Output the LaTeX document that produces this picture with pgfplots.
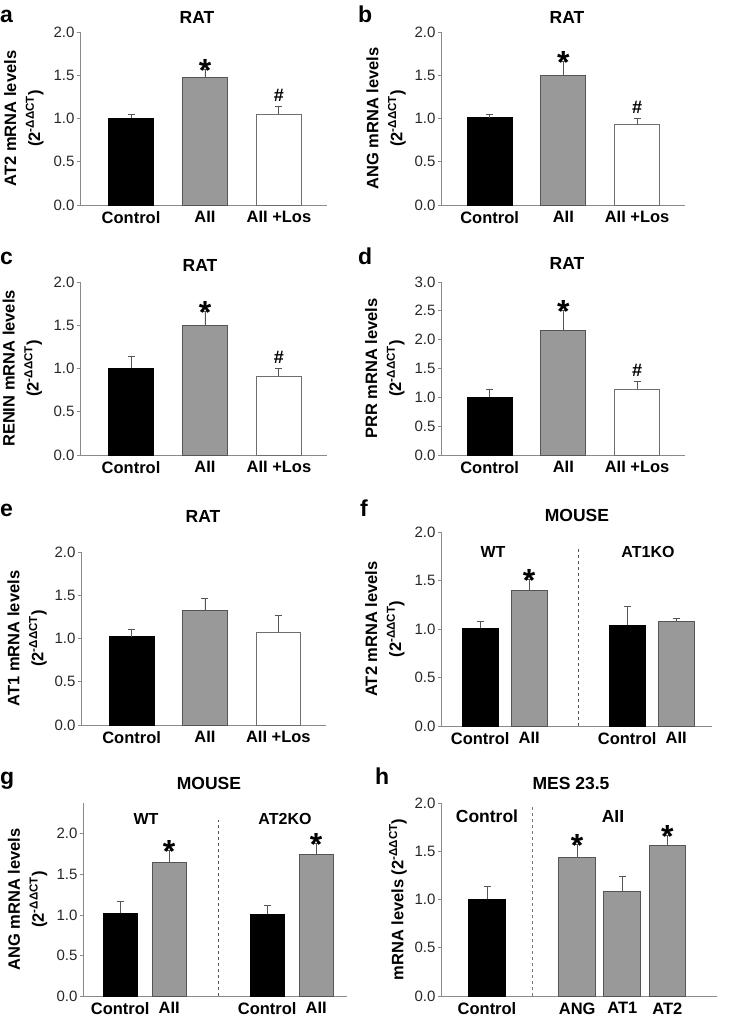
\documentclass[border=0pt]{standalone}
\usepackage{pgfplots}
\pgfplotsset{compat=1.18}
\usepackage{fontspec}
\setmainfont{Liberation Sans}
\definecolor{barg}{HTML}{999999}
\definecolor{edge}{HTML}{555555}
\definecolor{axg}{HTML}{8A8A8A}
\pgfplotsset{
  panel/.style={
    scale only axis, anchor=south west, clip=false,
    axis x line=bottom, axis y line=left,
    axis line style={axg, line width=0.9pt, -},
    ymin=0,
    /pgf/number format/assume math mode=true,
    yticklabel style={/pgf/number format/fixed, /pgf/number format/fixed zerofill,
      /pgf/number format/precision=1, font=\fontsize{15}{15}\selectfont, color=black!85, xshift=1pt},
    xticklabel style={font=\bfseries\fontsize{16.5}{18}\selectfont},
    xtick style={draw=none},
    ytick style={axg, line width=0.8pt},
    tick align=outside, major tick length=3pt,
    ylabel style={anchor=center, align=center, font=\bfseries\fontsize{16.5}{24}\selectfont},
  },
  blk/.style={ybar, bar shift=0pt, fill=black, draw=black, line width=0.8pt},
  gry/.style={ybar, bar shift=0pt, fill=barg, draw=edge, line width=0.8pt},
  wht/.style={ybar, bar shift=0pt, fill=white, draw=edge!85, line width=0.8pt},
  err/.style={error bars/.cd, y dir=plus, y explicit,
    error bar style={color=edge, line width=0.9pt},
    error mark options={rotate=90, mark size=3.5pt, line width=0.9pt, color=edge}},
}
\tikzset{
  ast/.style={font=\bfseries\fontsize{32}{32}\selectfont, anchor=base, yshift=-12pt, inner sep=0pt},
  hsh/.style={font=\bfseries\fontsize{18}{18}\selectfont, anchor=base, yshift=5pt, inner sep=0pt},
  plab/.style={font=\bfseries\fontsize{23}{23}\selectfont, anchor=base west, inner sep=0pt},
  ttl/.style={font=\bfseries\fontsize{17.5}{17.5}\selectfont, anchor=base, inner sep=0pt},
  grp/.style={font=\bfseries\fontsize{16}{16}\selectfont, anchor=base, inner sep=0pt},
}
\newcommand{\ddct}{(2\textsuperscript{-ΔΔCT})}
\begin{document}
\begin{tikzpicture}[x=1pt,y=1pt]
\useasboundingbox (0,0) rectangle (740,1017);
% ---------- a ----------
\node[plab] at (0,994) {a};
\node[ttl] at (197,993) {RAT};
\begin{axis}[panel, at={(80pt,812pt)}, width=247pt, height=173pt,
  xmin=-0.69, xmax=2.65, ymax=2, ytick={0,0.5,...,2}, bar width=0.61,
  xtick={0,1,2}, xticklabels={Control,AII,AII +Los},
  ylabel={AT2 mRNA levels\\\ddct}, ylabel style={at={(axis description cs:-0.227,0.5)}}]
\addplot[blk, err] coordinates {(0,1.00) +- (0,0.045)};
\addplot[gry, err] coordinates {(1,1.47) +- (0,0.10)};
\addplot[wht, err] coordinates {(2,1.05) +- (0,0.085)};
\node[ast] at (axis cs:1,1.57) {*};
\node[hsh] at (axis cs:2,1.135) {\#};
\end{axis}
% ---------- b ----------
\node[plab] at (358,994) {b};
\node[ttl] at (567,993) {RAT};
\begin{axis}[panel, at={(441pt,812pt)}, width=244pt, height=173pt,
  xmin=-0.66, xmax=2.65, ymax=2, ytick={0,0.5,...,2}, bar width=0.61,
  xtick={0,1,2}, xticklabels={Control,AII,AII +Los},
  ylabel={ANG mRNA levels\\\ddct}, ylabel style={at={(axis description cs:-0.225,0.5)}}]
\addplot[blk, err] coordinates {(0,1.01) +- (0,0.035)};
\addplot[gry, err] coordinates {(1,1.50) +- (0,0.16)};
\addplot[wht, err] coordinates {(2,0.93) +- (0,0.07)};
\node[ast] at (axis cs:1,1.66) {*};
\node[hsh] at (axis cs:2,1.00) {\#};
\end{axis}
% ---------- c ----------
\node[plab] at (0,752) {c};
\node[ttl] at (200,745) {RAT};
\begin{axis}[panel, at={(80pt,562pt)}, width=247pt, height=173pt,
  xmin=-0.69, xmax=2.65, ymax=2, ytick={0,0.5,...,2}, bar width=0.61,
  xtick={0,1,2}, xticklabels={Control,AII,AII +Los},
  ylabel={RENIN mRNA levels\\\ddct}, ylabel style={at={(axis description cs:-0.233,0.5)}}]
\addplot[blk, err] coordinates {(0,1.00) +- (0,0.135)};
\addplot[gry, err] coordinates {(1,1.50) +- (0,0.16)};
\addplot[wht, err] coordinates {(2,0.91) +- (0,0.085)};
\node[ast] at (axis cs:1,1.66) {*};
\node[hsh] at (axis cs:2,0.995) {\#};
\end{axis}
% ---------- d ----------
\node[plab] at (358,752) {d};
\node[ttl] at (567,747) {RAT};
\begin{axis}[panel, at={(441pt,562pt)}, width=244pt, height=173pt,
  xmin=-0.66, xmax=2.65, ymax=3, ytick={0,0.5,...,3}, bar width=0.61,
  xtick={0,1,2}, xticklabels={Control,AII,AII +Los},
  ylabel={PRR mRNA levels\\\ddct}, ylabel style={at={(axis description cs:-0.23,0.5)}}]
\addplot[blk, err] coordinates {(0,1.00) +- (0,0.14)};
\addplot[gry, err] coordinates {(1,2.16) +- (0,0.35)};
\addplot[wht, err] coordinates {(2,1.14) +- (0,0.135)};
\node[ast] at (axis cs:1,2.51) {*};
\node[hsh] at (axis cs:2,1.275) {\#};
\end{axis}
% ---------- e ----------
\node[plab] at (0,500) {e};
\node[ttl] at (203,494) {RAT};
\begin{axis}[panel, at={(81pt,292pt)}, width=245pt, height=173pt,
  xmin=-0.69, xmax=2.65, ymax=2, ytick={0,0.5,...,2}, bar width=0.61,
  xtick={0,1,2}, xticklabels={Control,AII,AII +Los},
  ylabel={AT1 mRNA levels\\\ddct}, ylabel style={at={(axis description cs:-0.22,0.5)}}]
\addplot[blk, err] coordinates {(0,1.02) +- (0,0.09)};
\addplot[gry, err] coordinates {(1,1.33) +- (0,0.13)};
\addplot[wht, err] coordinates {(2,1.07) +- (0,0.20)};
\end{axis}
% ---------- f ----------
\node[plab] at (360,500) {f};
\node[ttl] at (577,495) {MOUSE};
\node[grp] at (493,459) {WT};
\node[grp] at (648,459) {AT1KO};
\begin{axis}[panel, at={(441pt,291pt)}, width=271pt, height=194pt,
  xmin=-0.8, xmax=4.73, ymax=2, ytick={0,0.5,...,2}, bar width=0.73,
  xtick={0,1,3,4}, xticklabels={Control,AII,Control,AII},
  ylabel={AT2 mRNA levels\\\ddct}, ylabel style={at={(axis description cs:-0.207,0.5)}}]
\addplot[blk, err] coordinates {(0,1.01) +- (0,0.07)};
\addplot[gry, err] coordinates {(1,1.40) +- (0,0.11)};
\addplot[blk, err] coordinates {(3,1.04) +- (0,0.19)};
\addplot[gry, err] coordinates {(4,1.076) +- (0,0.035)};
\draw[edge, dashed, line width=0.8pt] (axis cs:2,0) -- (axis cs:2,1.835);
\node[ast] at (axis cs:1,1.51) {*};
\end{axis}
% ---------- g ----------
\node[plab] at (0,232) {g};
\node[ttl] at (209,227) {MOUSE};
\node[grp] at (146,192) {WT};
\node[grp] at (285,192) {AT2KO};
\begin{axis}[panel, at={(83pt,21pt)}, width=264pt, height=193pt,
  xmin=-0.76, xmax=4.63, ymax=2.38, ytick={0,0.5,...,2}, bar width=0.7,
  xtick={0,1,3,4}, xticklabels={Control,AII,Control,AII},
  ylabel={ANG mRNA levels\\\ddct}, ylabel style={at={(axis description cs:-0.21,0.5)}}]
\addplot[blk, err] coordinates {(0,1.02) +- (0,0.14)};
\addplot[gry, err] coordinates {(1,1.65) +- (0,0.14)};
\addplot[blk, err] coordinates {(3,1.01) +- (0,0.105)};
\addplot[gry, err] coordinates {(4,1.75) +- (0,0.13)};
\draw[edge, dashed, line width=0.8pt] (axis cs:2,0) -- (axis cs:2,2.17);
\node[ast] at (axis cs:1,1.79) {*};
\node[ast] at (axis cs:4,1.88) {*};
\end{axis}
% ---------- h ----------
\node[plab] at (375,232) {h};
\node[ttl] at (571,227) {MES 23.5};
\node[font=\bfseries\fontsize{17.5}{17.5}\selectfont, anchor=base, inner sep=0pt] at (487,194) {Control};
\node[font=\bfseries\fontsize{17.5}{17.5}\selectfont, anchor=base, inner sep=0pt] at (613,194) {AII};
\begin{axis}[panel, at={(441pt,21pt)}, width=276pt, height=193pt,
  xmin=-1.02, xmax=5.1, ymax=2, ytick={0,0.5,...,2}, bar width=0.82,
  xtick={0,2,3,4}, xticklabels={Control,ANG,AT1,AT2},
  ylabel={mRNA levels \ddct}, ylabel style={at={(axis description cs:-0.156,0.5)}}]
\addplot[blk, err] coordinates {(0,1.00) +- (0,0.135)};
\addplot[gry, err] coordinates {(2,1.435) +- (0,0.135)};
\addplot[gry, err] coordinates {(3,1.085) +- (0,0.15)};
\addplot[gry, err] coordinates {(4,1.56) +- (0,0.10)};
\draw[edge!80, dashed, line width=0.8pt] (axis cs:1,0) -- (axis cs:1,1.96);
\node[ast] at (axis cs:2,1.57) {*};
\node[ast] at (axis cs:4,1.66) {*};
\end{axis}
\end{tikzpicture}
\end{document}
